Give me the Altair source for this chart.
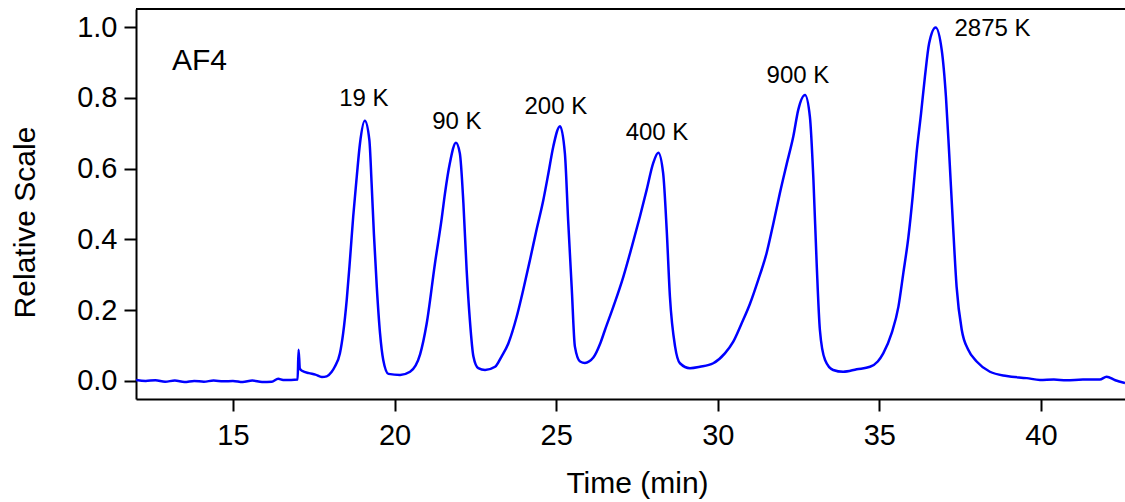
import altair as alt
import pandas as pd

# Trace (time in min, relative scale)
time_min = [12.00, 12.30, 12.60, 12.90, 13.20, 13.50, 13.80, 14.10, 14.40, 14.70,
            15.00, 15.30, 15.60, 15.90, 16.20, 16.40, 16.55, 16.80, 17.00, 17.03,
            17.07, 17.15, 17.35, 17.55, 17.75, 17.90, 18.05, 18.15, 18.31, 18.41,
            18.52, 18.62, 18.72, 18.83, 18.93, 19.08, 19.22, 19.29, 19.36, 19.45,
            19.55, 19.65, 19.81, 20.17, 20.48, 20.79, 20.99, 21.25, 21.46, 21.56,
            21.71, 21.90, 22.02, 22.13, 22.23, 22.33, 22.44, 22.59, 22.80, 23.11,
            23.31, 23.52, 23.78, 23.98, 24.19, 24.40, 24.60, 24.76, 24.91, 25.12,
            25.27, 25.37, 25.48, 25.58, 25.74, 25.89, 26.15, 26.36, 26.51, 26.77,
            27.08, 27.34, 27.59, 27.80, 28.00, 28.16, 28.31, 28.42, 28.52, 28.68,
            28.83, 29.14, 29.45, 29.86, 30.22, 30.48, 30.74, 31.00, 31.25, 31.51,
            31.72, 31.92, 32.13, 32.34, 32.49, 32.70, 32.85, 32.96, 33.06, 33.16,
            33.32, 33.57, 33.88, 34.30, 34.71, 34.95, 35.12, 35.38, 35.59, 35.74,
            35.90, 36.03, 36.15, 36.29, 36.41, 36.54, 36.74, 36.93, 37.06, 37.16,
            37.27, 37.39, 37.55, 37.75, 38.01, 38.42, 38.94, 39.56, 39.97, 40.40,
            40.79, 41.30, 41.82, 42.03, 42.30, 42.60]
rel_scale = [0.003, 0.000, 0.002, -0.002, 0.001, -0.003, 0.000, -0.002, 0.001, -0.001,
             0.000, -0.003, 0.001, -0.003, -0.002, 0.006, 0.003, 0.003, 0.004, 0.088,
             0.035, 0.028, 0.022, 0.018, 0.011, 0.013, 0.025, 0.040, 0.078, 0.135,
             0.229, 0.342, 0.464, 0.577, 0.671, 0.735, 0.681, 0.558, 0.417, 0.266,
             0.135, 0.059, 0.020, 0.017, 0.026, 0.075, 0.160, 0.332, 0.460, 0.530,
             0.615, 0.673, 0.643, 0.502, 0.314, 0.172, 0.069, 0.036, 0.031, 0.040,
             0.069, 0.106, 0.182, 0.257, 0.342, 0.430, 0.510, 0.587, 0.662, 0.720,
             0.643, 0.455, 0.266, 0.097, 0.055, 0.051, 0.066, 0.105, 0.144, 0.210,
             0.295, 0.379, 0.464, 0.540, 0.615, 0.645, 0.587, 0.427, 0.238, 0.097,
             0.050, 0.036, 0.040, 0.050, 0.078, 0.111, 0.163, 0.219, 0.285, 0.361,
             0.445, 0.530, 0.612, 0.692, 0.766, 0.808, 0.747, 0.568, 0.332, 0.144,
             0.059, 0.031, 0.026, 0.033, 0.040, 0.055, 0.078, 0.135, 0.210, 0.304,
             0.408, 0.521, 0.643, 0.756, 0.860, 0.954, 0.999, 0.935, 0.803, 0.643,
             0.455, 0.266, 0.144, 0.088, 0.055, 0.026, 0.014, 0.008, 0.003, 0.004,
             0.002, 0.004, 0.004, 0.012, 0.002, -0.006]

# Peak labels
peak_text = ["19 K", "90 K", "200 K", "400 K", "900 K", "2875 K"]
peak_time = [19.05, 21.93, 24.99, 28.12, 32.48, 38.50]
peak_value = [0.797, 0.732, 0.774, 0.701, 0.862, 0.994]

# Panel tag
tag_text = ["AF4"]
tag_time = [13.11]
tag_value = [0.904]

x_ticks = [15, 20, 25, 30, 35, 40]
y_ticks = [0.0, 0.2, 0.4, 0.6, 0.8, 1.0]

trace = pd.DataFrame({"t": time_min, "v": rel_scale})
peaks = pd.DataFrame({"t": peak_time, "v": peak_value, "label": peak_text})
tag = pd.DataFrame({"t": tag_time, "v": tag_value, "label": tag_text})

FONT = "Liberation Sans"
W, H = 989, 390

xscale = alt.Scale(domain=[12.0, 42.6], nice=False, zero=False)
yscale = alt.Scale(domain=[-0.051, 1.051], nice=False, zero=False)

line = alt.Chart(trace).mark_line(
    color="#0000FF", strokeWidth=2.5, interpolate="monotone", clip=True
).encode(
    x=alt.X("t:Q", scale=xscale, axis=alt.Axis(
        values=x_ticks, title="Time (min)", format="d",
        titleX=501, titleY=84, titleBaseline="middle", titleAnchor="middle",
        titleFontSize=30, labelFontSize=29, tickSize=12, labelPadding=10,
        grid=False)),
    y=alt.Y("v:Q", scale=yscale, axis=alt.Axis(
        values=y_ticks, title="Relative Scale", format=".1f",
        titleX=-111, titleY=213, titleAngle=270, titleBaseline="middle",
        titleFontSize=30, labelFontSize=29, tickSize=12, labelPadding=7,
        grid=False)),
)

labels = alt.Chart(peaks).mark_text(
    font=FONT, fontSize=24, color="black", align="center", baseline="middle"
).encode(x=alt.X("t:Q", scale=xscale), y=alt.Y("v:Q", scale=yscale), text="label:N")

tag_mark = alt.Chart(tag).mark_text(
    font=FONT, fontSize=30, color="black", align="left", baseline="middle"
).encode(x=alt.X("t:Q", scale=xscale), y=alt.Y("v:Q", scale=yscale), text="label:N")

top_border = alt.Chart(pd.DataFrame({"a": [0]})).mark_rule(
    color="black", strokeWidth=2
).encode(x=alt.value(0), x2=alt.value(W), y=alt.value(0))

chart = alt.layer(line, labels, tag_mark, top_border).properties(
    width=W, height=H,
    autosize=alt.AutoSizeParams(type="none"),
    padding={"left": 136, "top": 9, "right": 0, "bottom": 103},
    background="white",
).configure_view(strokeWidth=0).configure_axis(
    labelFont=FONT, titleFont=FONT, labelColor="black", titleColor="black",
    titleFontWeight="normal", domainColor="black", tickColor="black",
    domainWidth=2, tickWidth=2,
)

chart.save("out.html", embed_options={"renderer": "svg", "actions": False})
